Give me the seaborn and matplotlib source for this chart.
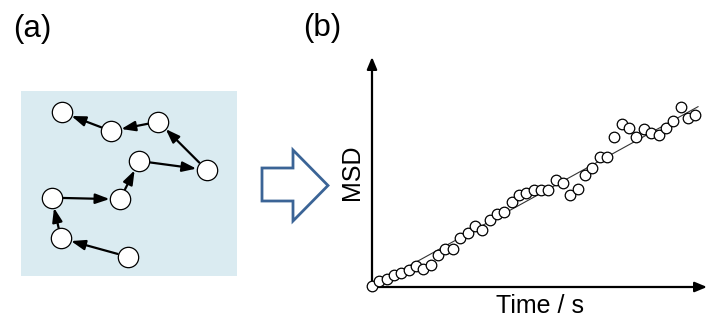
import numpy as np
import matplotlib
matplotlib.use("Agg")
import matplotlib.pyplot as plt
import seaborn as sns
import pandas as pd
from matplotlib.patches import Polygon

# Panel (a): random-walk trajectory (schematic units, y grows downwards)
walk_x = [107.0, 40.3, 31.0, 99.3, 118.6, 186.0, 137.6, 90.3, 41.0]
walk_y = [166.0, 147.6, 107.0, 108.6, 70.3, 79.3, 31.0, 40.3, 21.6]

# Panel (b): mean squared displacement vs time
time = np.arange(45)
msd = [0.2, 1.7, 2.4, 3.7, 4.2, 5.2, 6.2, 5.4, 6.7, 9.7,
       11.4, 11.4, 14.7, 16.2, 18.2, 17.2, 20.0, 21.9, 22.4, 25.5,
       27.7, 28.2, 29.2, 29.0, 29.2, 32.2, 31.2, 27.7, 29.5, 33.7,
       35.7, 39.0, 39.2, 45.2, 49.0, 47.7, 45.2, 47.4, 46.2, 45.7,
       47.7, 50.0, 54.2, 50.7, 51.7]
fit_time = [0.0, 44.4]
fit_msd = [0.2, 54.2]

sns.set_theme(style="white")
plt.rcParams['font.family'] = ['Liberation Sans', 'DejaVu Sans']
plt.rcParams['text.color'] = 'black'
plt.rcParams['axes.labelcolor'] = 'black'

fig = plt.figure(figsize=(7.08, 3.22), dpi=100)

# ---- panel (a)
axa = fig.add_axes([20.7 / 708, 1 - 276 / 322, 216.3 / 708, 185.3 / 322])
axa.set_facecolor("#daebf1")
for s in axa.spines.values():
    s.set_visible(False)
axa.set_xlim(0, 216.3)
axa.set_ylim(185.3, 0)
axa.set_xticks([])
axa.set_yticks([])
for i in range(len(walk_x) - 1):
    axa.annotate("", xy=(walk_x[i + 1], walk_y[i + 1]), xytext=(walk_x[i], walk_y[i]),
                 arrowprops=dict(arrowstyle="-|>,head_length=0.7,head_width=0.25",
                                 color="black", lw=1.6, shrinkA=7.5, shrinkB=7.5),
                 zorder=2)
walk_df = pd.DataFrame({"x": walk_x, "y": walk_y})
sns.scatterplot(data=walk_df, x="x", y="y", ax=axa, s=215, color="white",
                edgecolor="black", linewidth=0.9, zorder=3, legend=False)
axa.set_xlabel("")
axa.set_ylabel("")

# ---- block arrow between panels (figure pixels)
shaft_top, shaft_bot = 168, 201
head_top, head_bot = 150, 221
pts = [(262, shaft_top), (293, shaft_top), (293, head_top), (328, 185.5),
       (293, head_bot), (293, shaft_bot), (262, shaft_bot)]
pts = [(x / 708, 1 - y / 322) for x, y in pts]
fig.patches.append(Polygon(pts, closed=True, transform=fig.transFigure,
                           facecolor="white", edgecolor="#3b6496", lw=2.0))

# ---- panel (b)
axb = fig.add_axes([372 / 708, 1 - 287 / 322, 335 / 708, 230 / 322])
df = pd.DataFrame({"Time": time, "MSD": msd})
axb.plot(fit_time, fit_msd, color="#333333", lw=0.8, zorder=2)
sns.scatterplot(data=df, x="Time", y="MSD", ax=axb, s=58, color="white",
                edgecolor="black", linewidth=0.9, zorder=3, clip_on=False, legend=False)
axb.set_xlim(0, 45.6)
axb.set_ylim(0, 69.1)
axb.set_xticks([])
axb.set_yticks([])
for s in axb.spines.values():
    s.set_visible(False)
axb.annotate("", xy=(1.0, 0), xytext=(0, 0), xycoords="axes fraction",
             arrowprops=dict(arrowstyle="-|>,head_length=0.6,head_width=0.25",
                             color="black", lw=1.6, shrinkA=0, shrinkB=0), zorder=1)
axb.annotate("", xy=(0, 1.0), xytext=(0, 0), xycoords="axes fraction",
             arrowprops=dict(arrowstyle="-|>,head_length=0.6,head_width=0.25",
                             color="black", lw=1.6, shrinkA=0, shrinkB=0), zorder=1)
axb.set_xlabel("Time / s", fontsize=18, labelpad=5)
axb.set_ylabel("MSD", fontsize=18, labelpad=6)

fig.text(13 / 708, 1 - 14 / 322, "(a)", fontsize=22.5, va="top", ha="left")
fig.text(303 / 708, 1 - 13 / 322, "(b)", fontsize=22.5, va="top", ha="left")

fig.savefig("out.png", dpi=100, facecolor="white")
